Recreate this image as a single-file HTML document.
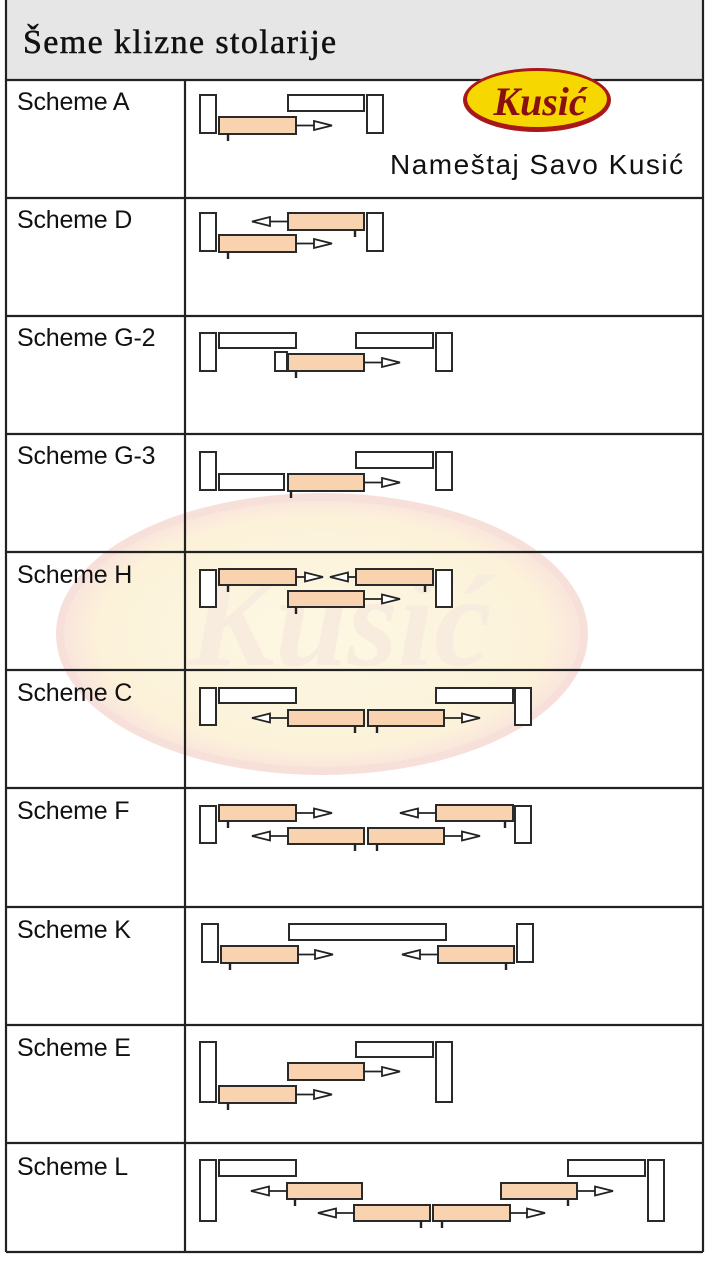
<!DOCTYPE html>
<html><head><meta charset="utf-8">
<style>
html,body{margin:0;padding:0;background:#fff;width:708px;height:1262px;overflow:hidden}
svg{position:absolute;left:0;top:0}
</style></head>
<body>
<svg id="s" width="708" height="1262" xmlns="http://www.w3.org/2000/svg">
<defs>
<radialGradient id="wm" cx="50%" cy="50%" r="50%">
<stop offset="0%" stop-color="#fdf7e2"/><stop offset="85%" stop-color="#fcf2da"/><stop offset="100%" stop-color="#fae4dc"/>
</radialGradient>
</defs>
<rect x="6" y="0" width="697" height="80" fill="#e6e6e6"/>
<ellipse cx="322" cy="634" rx="262" ry="137" fill="url(#wm)" stroke="#f8e0da" stroke-width="8"/>
<text x="340" y="665" font-family="Liberation Serif, serif" font-style="italic" font-weight="bold" font-size="130" fill="#f7ecdd" text-anchor="middle">Kusić</text>
<g id="lines" stroke="#222" stroke-width="2.2" fill="none">
<line x1="6" y1="0" x2="6" y2="1252"/>
<line x1="703" y1="0" x2="703" y2="1252"/>
<line x1="185" y1="80" x2="185" y2="1252"/>
<line x1="6" y1="80" x2="703" y2="80"/>
<line x1="6" y1="198" x2="703" y2="198"/>
<line x1="6" y1="316" x2="703" y2="316"/>
<line x1="6" y1="434" x2="703" y2="434"/>
<line x1="6" y1="552" x2="703" y2="552"/>
<line x1="6" y1="670" x2="703" y2="670"/>
<line x1="6" y1="788" x2="703" y2="788"/>
<line x1="6" y1="907" x2="703" y2="907"/>
<line x1="6" y1="1025" x2="703" y2="1025"/>
<line x1="6" y1="1143" x2="703" y2="1143"/>
<line x1="6" y1="1252" x2="703" y2="1252"/>
</g>
<text x="23" y="53" font-family="Liberation Serif, serif" font-size="34" letter-spacing="1.4" fill="#111" stroke="#111" stroke-width="0.5">Šeme klizne stolarije</text>
<g font-family="Liberation Sans, sans-serif" font-size="25" fill="#111" letter-spacing="-0.2">
<text x="17" y="110">Scheme A</text>
<text x="17" y="228">Scheme D</text>
<text x="17" y="346">Scheme G-2</text>
<text x="17" y="464">Scheme G-3</text>
<text x="17" y="583">Scheme H</text>
<text x="17" y="701">Scheme C</text>
<text x="17" y="819">Scheme F</text>
<text x="17" y="938">Scheme K</text>
<text x="17" y="1056">Scheme E</text>
<text x="17" y="1175">Scheme L</text>
</g>
<ellipse cx="537" cy="100" rx="74" ry="32" fill="#a81818"/>
<ellipse cx="537" cy="99" rx="70" ry="28" fill="#f6d800"/>
<text x="540" y="115" font-family="Liberation Serif, serif" font-style="italic" font-weight="bold" font-size="40" fill="#8a1010" text-anchor="middle">Kusić</text>
<text x="390" y="174" font-family="Liberation Sans, sans-serif" font-size="28" letter-spacing="1.5" fill="#111">Nameštaj Savo Kusić</text>
<g id="d"></g>
</svg>
<script>
var g=document.getElementById('d'),h='';
function R(x1,y1,x2,y2,o){h+='<rect x="'+x1+'" y="'+y1+'" width="'+(x2-x1)+'" height="'+(y2-y1)+'" fill="'+(o?'#f9d3b0':'#fff')+'" stroke="#2a2a2a" stroke-width="2"/>';}
function T(x,y){h+='<line x1="'+x+'" y1="'+y+'" x2="'+x+'" y2="'+(y+7)+'" stroke="#222" stroke-width="2.4"/>';}
function A(x1,y,tip){var d=tip>x1?1:-1,b=tip-d*18;h+='<line x1="'+x1+'" y1="'+y+'" x2="'+b+'" y2="'+y+'" stroke="#222" stroke-width="1.8"/><polygon points="'+b+','+(y-4.5)+' '+tip+','+y+' '+b+','+(y+4.5)+'" fill="#fff" stroke="#222" stroke-width="1.8"/>';}
function O(x1,y1,x2,y2,tick,tip,adir){R(x1,y1,x2,y2,1);if(tick)T(tick,y2);var ym=(y1+y2)/2;if(tip!=null){A(adir>0?x2:x1,ym,tip);}}
R(200,95,216,133);R(367,95,383,133);R(288,95,364,111);O(219,117,296,134,228,332,1);
R(200,213,216,251);R(367,213,383,251);O(288,213,364,230,355,252,-1);O(219,235,296,252,228,332,1);
R(200,333,216,371);R(436,333,452,371);R(219,333,296,348);R(356,333,433,348);R(275,352,287,371);O(288,354,364,371,296,400,1);
R(200,452,216,490);R(436,452,452,490);R(356,452,433,468);R(219,474,284,490);O(288,474,364,491,291,400,1);
R(200,570,216,607);R(436,570,452,607);O(219,569,296,585,228,323,1);O(356,569,433,585,425,330,-1);O(288,591,364,607,296,400,1);
R(200,688,216,725);R(515,688,531,725);R(219,688,296,703);R(436,688,513,703);O(288,710,364,726,355,252,-1);O(368,710,444,726,377,480,1);
R(200,806,216,843);R(515,806,531,843);O(219,805,296,821,228,332,1);O(436,805,513,821,505,400,-1);O(288,828,364,844,355,252,-1);O(368,828,444,844,377,480,1);
R(202,924,218,962);R(517,924,533,962);R(289,924,446,940);O(221,946,298,963,230,333,1);O(438,946,514,963,506,402,-1);
R(200,1042,216,1102);R(436,1042,452,1102);R(356,1042,433,1057);O(288,1063,364,1080,null,400,1);O(219,1086,296,1103,228,332,1);
R(200,1160,216,1221);R(219,1160,296,1176);O(287,1183,362,1199,295,251,-1);O(354,1205,430,1221,421,318,-1);O(433,1205,510,1221,442,545,1);O(501,1183,577,1199,568,613,1);R(568,1160,645,1176);R(648,1160,664,1221);
g.innerHTML=h;
</script>
</body></html>
